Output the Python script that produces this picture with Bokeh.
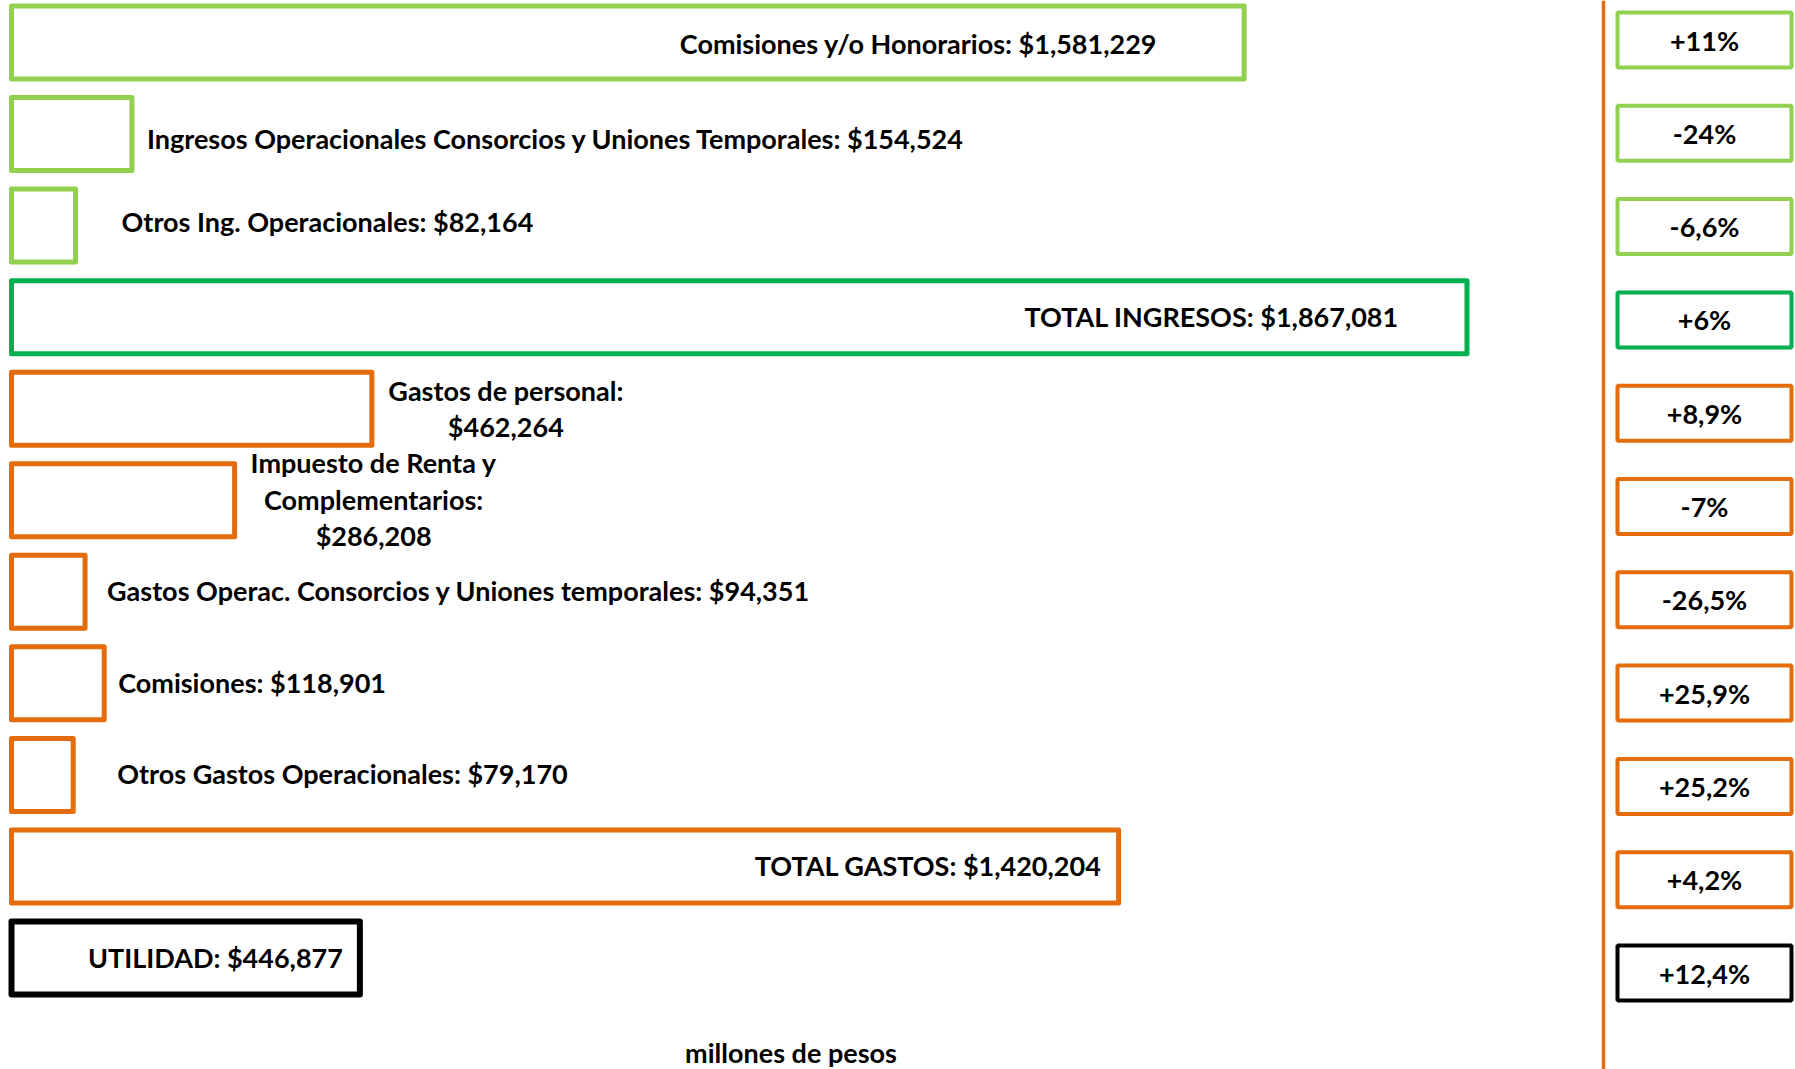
from bokeh.plotting import figure
from bokeh.models import Range1d, ColumnDataSource, Span, Label
from bokeh.core.properties import value
from bokeh.embed import file_html
from bokeh.resources import INLINE

# ---------------- data ----------------
names = ["Comisiones y/o Honorarios",
         "Ingresos Operacionales Consorcios y Uniones Temporales",
         "Otros Ing. Operacionales",
         "TOTAL INGRESOS",
         "Gastos de personal",
         "Impuesto de Renta y\nComplementarios",
         "Gastos Operac. Consorcios y Uniones temporales",
         "Comisiones",
         "Otros Gastos Operacionales",
         "TOTAL GASTOS",
         "UTILIDAD"]
values = [1581229, 154524, 82164, 1867081, 462264, 286208, 94351, 118901, 79170, 1420204, 446877]
changes = ["+11%", "-24%", "-6,6%", "+6%", "+8,9%", "-7%", "-26,5%", "+25,9%", "+25,2%", "+4,2%", "+12,4%"]
unit_label = "millones de pesos"

# ---------------- styles ----------------
LG, DG, OR, BK = "#92D050", "#00B050", "#E46C0A", "#000000"
colors = [LG, LG, LG, DG, OR, OR, OR, OR, OR, OR, BK]
separators = [": "] * 11
separators[4] = ":\n"
separators[5] = ":\n"
label_align = ["right", "left", "left", "right", "center", "center", "left", "left", "left", "right", "right"]
label_dx = [-87, 15, 46, -68, 134, 139, 22, 14, 44, -17, -17]
label_dy = [1, 4, -4, -1, 0, -1, -1, -1, -1, -1, -1]

FONT = "Lato"
FS = "27px"

W, H = 1795, 1069
ZERO_X = 11
SCALE = 0.00077955        # px per unit
ROW0, PITCH = 42, 91.55
PROW0, PPITCH = 39.5, 93.3

n = len(values)
rows = list(range(n))
labels = [f"{nm}{sep}${v:,}" for nm, sep, v in zip(names, separators, values)]

p = figure(width=W, height=H, output_backend="svg", toolbar_location=None,
           min_border=0, x_axis_type=None, y_axis_type=None,
           x_range=Range1d(-ZERO_X / SCALE, (W - ZERO_X) / SCALE),
           y_range=Range1d((H - ROW0) / PITCH, -ROW0 / PITCH))
p.outline_line_color = None
p.grid.visible = False
p.background_fill_color = "white"
p.border_fill_color = "white"
p.extra_x_ranges = {"px": Range1d(0, W)}
p.extra_y_ranges = {"pct": Range1d((H - PROW0) / PPITCH, -PROW0 / PPITCH)}

src = ColumnDataSource(dict(y=rows, v=values, color=colors, label=labels, chg=changes))

lw = [5] * n
lw[-1] = 6
src.data["lw"] = lw
p.hbar(y="y", left=0, right="v", height=73 / PITCH, source=src,
       fill_color=None, line_color="color", line_width="lw", line_join="round")

# labels
for i in rows:
    p.text(x=[values[i]], y=[i], text=[labels[i]], x_offset=label_dx[i], y_offset=label_dy[i],
           text_align=label_align[i], text_baseline="middle",
           text_font=value(FONT), text_font_size=FS, text_font_style="bold",
           text_color="black", text_line_height=1.1)

# separator line
p.add_layout(Span(location=1603, dimension="height", line_color=OR, line_width=3.5,
                  x_range_name="px"))

# percent change boxes
BOX_CX, BOX_W = 1704, 174
p.rect(x=BOX_CX, y="y", width=BOX_W, height=55 / PPITCH, source=src,
       x_range_name="px", y_range_name="pct",
       fill_color="white", line_color="color", line_width=4)
p.text(x=BOX_CX, y="y", text="chg", source=src, x_range_name="px", y_range_name="pct",
       text_align="center", text_baseline="middle",
       text_font=value(FONT), text_font_size=FS, text_font_style="bold", text_color="black")

p.add_layout(Label(x=790.5, y=H - 1052, x_units="screen", y_units="screen",
                   text=unit_label, text_align="center", text_baseline="middle",
                   text_font=FONT, text_font_size=FS, text_font_style="bold",
                   text_color="black"))

open("out.html", "w").write(file_html(p, INLINE))
